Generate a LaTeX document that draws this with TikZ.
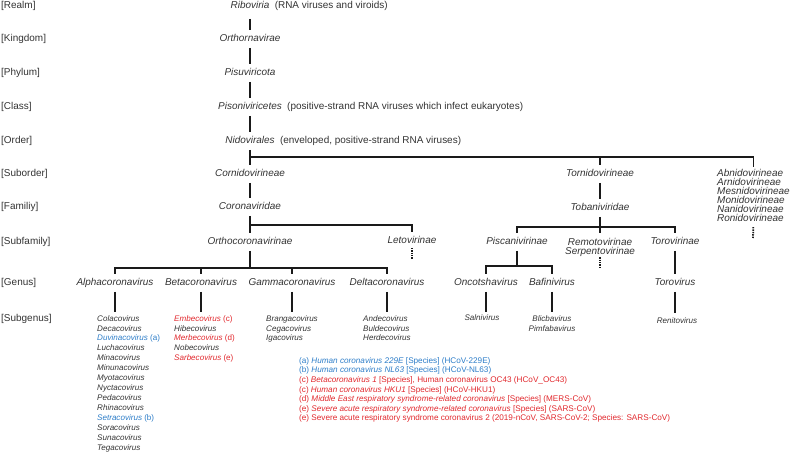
\documentclass[tikz,border=0pt]{standalone}
\usepackage{fontspec}
\setmainfont{Liberation Sans}
\definecolor{txt}{HTML}{333333}
\definecolor{lin}{HTML}{1A1A1A}
\definecolor{cblue}{HTML}{2D7DC8}
\definecolor{cred}{HTML}{E1282D}
\begin{document}
\begin{tikzpicture}[x=1bp,y=-1bp,
  ranktxt/.style={anchor=west, inner sep=0, font=\fontsize{10}{12}\selectfont, text=txt},
  nametxt/.style={inner xsep=0, inner ysep=4bp, text height=7.2bp, text depth=2bp, font=\fontsize{10}{12}\selectfont\itshape, text=txt},
  cmttxt/.style={anchor=base west, inner sep=0, font=\fontsize{10}{12}\selectfont, text=txt},
  sublist/.style={anchor=north west, inner sep=0, align=left, font=\fontsize{8.1}{10}\selectfont\itshape, text=txt},
  smtxt/.style={inner sep=0, align=center, font=\fontsize{8.1}{10}\selectfont\itshape, text=txt},
  biglist/.style={inner sep=0, font=\fontsize{10}{9}\selectfont\itshape, text=txt},
  conn/.style={draw=lin, line width=1.8bp},
  dotconn/.style={draw=lin, line width=1.8bp, dash pattern=on 1.4bp off 1bp}]
\useasboundingbox (0,0) rectangle (793,452);

% rank labels
\node[ranktxt] (rRealm) at (1,6) {[Realm]};
\node[ranktxt] (rKing) at (1,39) {[Kingdom]};
\node[ranktxt] (rPhyl) at (1,73) {[Phylum]};
\node[ranktxt] (rClass) at (1,107) {[Class]};
\node[ranktxt] (rOrder) at (1,141) {[Order]};
\node[ranktxt] (rSubo) at (1,174) {[Suborder]};
\node[ranktxt] (rFam) at (1,207) {[Familiy]};
\node[ranktxt] (rSubf) at (1,242) {[Subfamily]};
\node[ranktxt] (rGen) at (1,283) {[Genus]};
\node[ranktxt] (rSubg) at (1,319) {[Subgenus]};

% main trunk
\node[nametxt] (ribo) at (250,6) {Riboviria};
\node[cmttxt] (riboC) at ([xshift=5bp]ribo.base east) {(RNA viruses and viroids)};
\node[nametxt] (orth) at (250,39) {Orthornavirae};
\node[nametxt] (pisu) at (250,73) {Pisuviricota};
\node[nametxt] (piso) at (250,107) {Pisoniviricetes};
\node[cmttxt] (pisoC) at ([xshift=5bp]piso.base east) {(positive-strand RNA viruses which infect eukaryotes)};
\node[nametxt] (nido) at (250,141) {Nidovirales};
\node[cmttxt] (nidoC) at ([xshift=5bp]nido.base east) {(enveloped, positive-strand RNA viruses)};

\draw[conn, shorten <=4bp] (ribo.south) -- (orth.north);
\draw[conn] (orth.south) -- (pisu.north);
\draw[conn] (pisu.south) -- (piso.north);
\draw[conn] (piso.south) -- (nido.north);

% suborders
\node[nametxt] (corn) at (250,174) {Cornidovirineae};
\node[nametxt] (torn) at (600,174) {Tornidovirineae};
\node[biglist, anchor=north west, align=left] (abni) at (717,169.5) {Abnidovirineae\\Arnidovirineae\\Mesnidovirineae\\Monidovirineae\\Nanidovirineae\\Ronidovirineae};
\coordinate (nbar) at (250,157);
\coordinate (abniEnd) at (753,238);
\draw[conn] (nido.south) -- (corn.north);
\draw[conn] (nbar) -| (torn.north);
\draw[conn, shorten >=2.5bp] (nbar) -| (abni.north);
\draw[dotconn, shorten <=5bp] (abni.south) -- (abniEnd);

% Cornidovirineae branch
\node[nametxt] (coro) at (250,207) {Coronaviridae};
\node[nametxt] (orthoc) at (250,242) {Orthocoronavirinae};
\node[nametxt] (leto) at (412,241) {Letovirinae};
\coordinate (cbar) at (250,225);
\coordinate (letoEnd) at (412,259);
\draw[conn] (corn.south) -- (coro.north);
\draw[conn] (coro.south) -- (orthoc.north);
\draw[conn] (cbar) -| (leto.north);
\draw[dotconn, shorten <=-2bp] (leto.south) -- (letoEnd);

% genera
\node[nametxt] (alpha) at (115,283) {Alphacoronavirus};
\node[nametxt] (beta) at (201,283) {Betacoronavirus};
\node[nametxt] (gamma) at (292,283) {Gammacoronavirus};
\node[nametxt] (delta) at (387,283) {Deltacoronavirus};
\coordinate (gbar) at (250,268);
\draw[conn] (orthoc.south) -- (gbar);
\draw[conn] (gbar) -| (alpha.north);
\draw[conn] (gbar) -| (beta.north);
\draw[conn] (gbar) -| (gamma.north);
\draw[conn] (gbar) -| (delta.north);

% subgenera
\node[sublist] (alist) at (97,315) {Colacovirus\\Decacovirus\\\textcolor{cblue}{Duvinacovirus \upshape(a)}\\Luchacovirus\\Minacovirus\\Minunacovirus\\Myotacovirus\\Nyctacovirus\\Pedacovirus\\Rhinacovirus\\\textcolor{cblue}{Setracovirus \upshape(b)}\\Soracovirus\\Sunacovirus\\Tegacovirus};
\node[sublist] (blist) at (174,315) {\textcolor{cred}{Embecovirus \upshape(c)}\\Hibecovirus\\\textcolor{cred}{Merbecovirus \upshape(d)}\\Nobecovirus\\\textcolor{cred}{Sarbecovirus \upshape(e)}};
\node[sublist] (glist) at (266,315) {Brangacovirus\\Cegacovirus\\Igacovirus};
\node[sublist] (dlist) at (363,315) {Andecovirus\\Buldecovirus\\Herdecovirus};
\draw[conn, shorten >=3bp] (alpha.south) -- (alpha.south |- alist.north);
\draw[conn, shorten >=3bp] (beta.south) -- (beta.south |- blist.north);
\draw[conn, shorten >=3bp] (gamma.south) -- (gamma.south |- glist.north);
\draw[conn, shorten >=3bp] (delta.south) -- (delta.south |- dlist.north);

% Tornidovirineae branch
\node[nametxt] (toba) at (600,208) {Tobaniviridae};
\node[nametxt] (pisc) at (517,242) {Piscanivirinae};
\node[biglist, anchor=north, align=center] (remo) at (600,238.5) {Remotovirinae\\Serpentovirinae};
\node[nametxt] (torv) at (675,242) {Torovirinae};
\coordinate (tbar) at (600,227);
\coordinate (remoEnd) at (600,268);
\draw[conn] (torn.south) -- (toba.north);
\draw[conn, shorten >=5bp] (toba.south) -- (remo.north);
\draw[conn] (tbar) -| (pisc.north);
\draw[conn] (tbar) -| (torv.north);
\draw[dotconn] (remo.south) -- (remoEnd);

\node[nametxt] (onco) at (486,283) {Oncotshavirus};
\node[nametxt] (bafi) at (552,283) {Bafinivirus};
\coordinate (pbar) at (517,266);
\draw[conn] (pisc.south) -- (pbar);
\draw[conn] (pbar) -| (onco.north);
\draw[conn] (pbar) -| (bafi.north);
\node[smtxt] (saln) at (482,318) {Salnivirus};
\node[smtxt, anchor=north] (blic) at (552,315) {Blicbavirus\\Pimfabavirus};
\draw[conn, shorten >=3bp] (onco.south) -- (onco.south |- saln.north);
\draw[conn, shorten >=3bp] (bafi.south) -- (blic.north);

\node[nametxt] (torovirus) at (675,283) {Torovirus};
\node[smtxt] (reni) at (677,321) {Renitovirus};
\draw[conn] (torv.south) -- (torovirus.north);
\draw[conn, shorten >=5bp] (torovirus.south) -- (torovirus.south |- reni.north);

% footnotes
\node[anchor=north west, inner sep=0, align=left, font=\fontsize{8.2}{9.67}\selectfont] (notes) at (299,357) {%
\textcolor{cblue}{(a) \textit{Human coronavirus 229E} [Species] (HCoV-229E)}\\
\textcolor{cblue}{(b) \textit{Human coronavirus NL63} [Species] (HCoV-NL63)}\\
\textcolor{cred}{(c) \textit{Betacoronavirus 1} [Species], Human coronavirus OC43 (HCoV\_OC43)}\\
\textcolor{cred}{(c) \textit{Human coronavirus HKU1} [Species] (HCoV-HKU1)}\\
\textcolor{cred}{(d) \textit{Middle East respiratory syndrome-related coronavirus} [Species] (MERS-CoV)}\\
\textcolor{cred}{(e) \textit{Severe acute respiratory syndrome-related coronavirus} [Species] (SARS-CoV)}\\
\textcolor{cred}{(e) Severe acute respiratory syndrome coronavirus 2 (2019-nCoV, SARS-CoV-2; Species: SARS-CoV)}};
\end{tikzpicture}
\end{document}
